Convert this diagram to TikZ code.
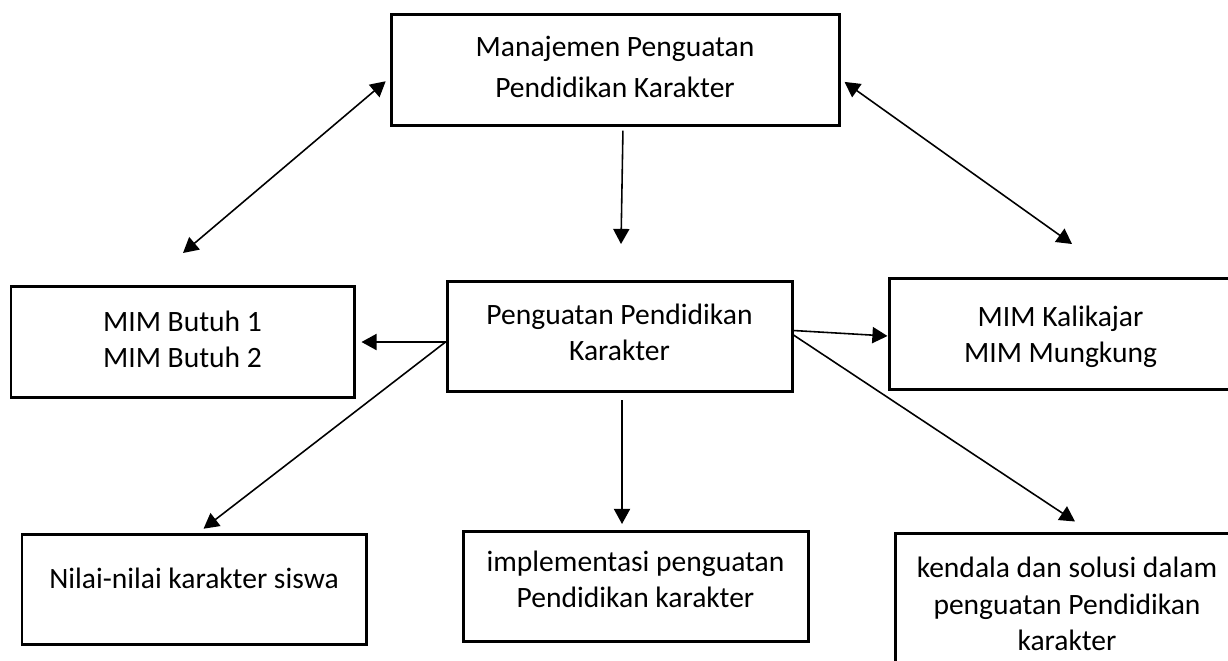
\documentclass[tikz,border=0pt]{standalone}
\usepackage{fontspec}
\setmainfont{Carlito}
\usetikzlibrary{arrows.meta,positioning,calc}

\begin{document}
\begin{tikzpicture}[
  x=0.01cm, y=-0.01cm,
  font=\fontsize{8.4}{10.3}\selectfont,
  >={Triangle[length=4.3pt,width=4.6pt]},
  box/.style = {draw, line width=0.85pt, align=center, inner sep=0pt,
                minimum width=#1*0.01cm, minimum height=1.1cm},
  con/.style = {line width=0.45pt, ->},
  dbl/.style = {line width=0.45pt, <->},
]

\useasboundingbox (0,0) rectangle (1228,660);
\clip (0,0) rectangle (1228,660);

\node[box=448, text depth=2.0pt, font=\fontsize{8.4}{11.6}\selectfont] (mgmt) at (615,70)
  {Manajemen Penguatan\\Pendidikan Karakter};
\node[box=345, text depth=2.6pt] (ppk) at (619.5,336.5) {Penguatan Pendidikan\\Karakter};
\node[box=343, text depth=1.5pt] (butuh) at (182.5,342) {MIM Butuh 1\\MIM Butuh 2};
\node[box=343, text depth=0pt] (kali) at (1060.5,334) {MIM Kalikajar\\MIM Mungkung};
\node[box=344, text depth=6.6pt] (nilai) at (194,589.5) {Nilai-nilai karakter siswa};
\node[box=345, text depth=4.3pt] (impl) at (635.5,586.5) {implementasi penguatan\\Pendidikan karakter};
\node[box=344, minimum height=1.4cm] (kendala) at (1067,604)
  {kendala dan solusi dalam\\penguatan Pendidikan\\karakter};

\coordinate (lfree) at (183,253);
\coordinate (rfree) at (1072,244);
\coordinate (dfree) at (621,244);

\draw[dbl,shorten <=0.05cm] ([yshift=-0.08cm]mgmt.west) -- (lfree);
\draw[dbl,shorten <=0.05cm] ([yshift=-0.09cm]mgmt.east) -- (rfree);
\draw[con,shorten <=0.04cm] ([xshift=0.08cm]mgmt.south) -- (dfree);

\draw[con,shorten >=0.06cm] (ppk.west |- butuh.east) -- (butuh.east);
\draw[con] ([yshift=0.06cm]ppk.east) -- ([yshift=-0.02cm]kali.west);
\draw[con,shorten >=0.07cm] (ppk.west |- butuh.east) -- ([xshift=0.04cm]nilai.north);
\draw[con,shorten <=0.07cm,shorten >=0.06cm]
  ([xshift=0.025cm]ppk.south) -- ([xshift=0.025cm]ppk.south |- impl.north);
\draw[con] ([yshift=0.015cm]ppk.east) -- ([xshift=0.08cm,yshift=0.11cm]kendala.north);

\end{tikzpicture}
\end{document}
